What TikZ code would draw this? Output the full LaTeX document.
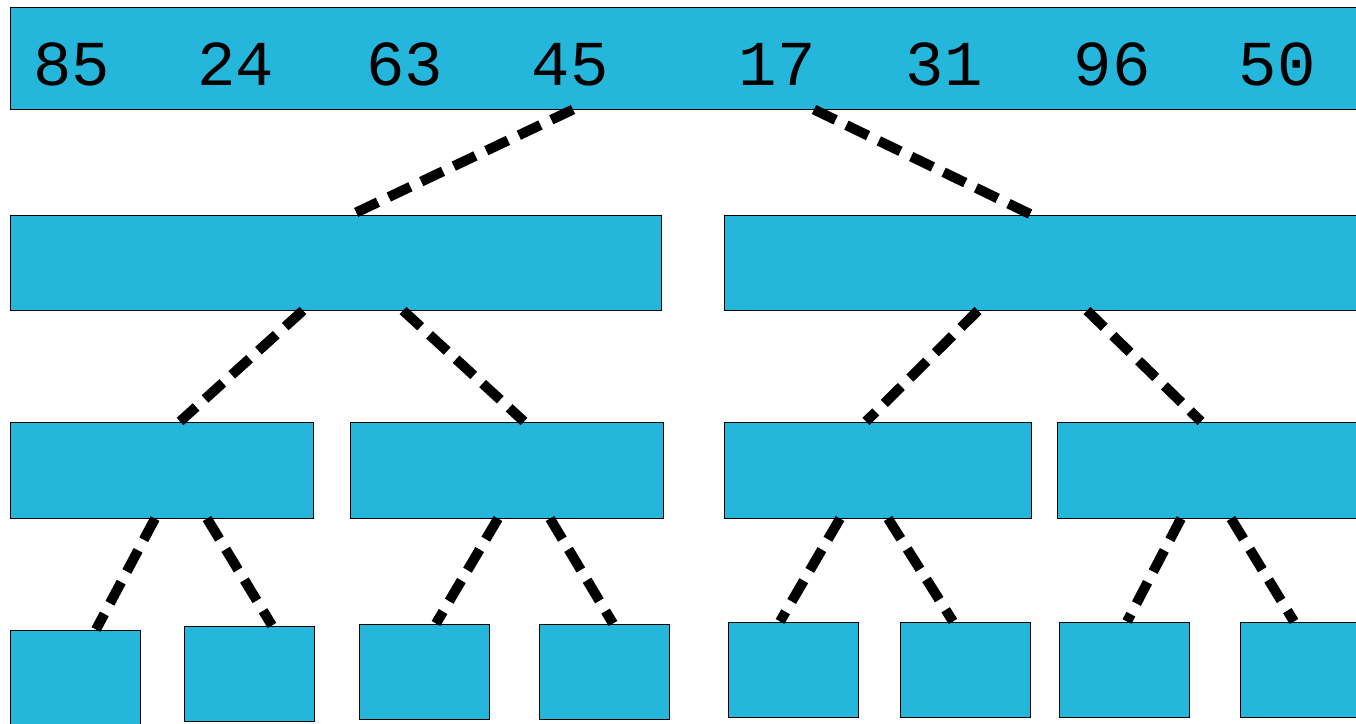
\documentclass[tikz,border=0pt]{standalone}
\usepackage{fontspec}
\newfontfamily\numfont{Liberation Mono}
\definecolor{boxblue}{RGB}{37,183,219}
\begin{document}
\begin{tikzpicture}[x=1pt,y=-1pt,
  box/.style={draw=black,line width=1pt,fill=boxblue,rectangle,inner sep=0pt},
  conn/.style={line width=10pt,dash pattern=on 24pt off 12pt},
  num/.style={inner sep=0pt,font=\numfont\fontsize{64}{64}\selectfont}]
\useasboundingbox (0,0) rectangle (1356,723);
\clip (0,0) rectangle (1356,723);
% boxes
\node[box,minimum width=1356pt,minimum height=102pt] (T) at (688,58) {};
\node[box,minimum width=651pt,minimum height=95pt] (L) at (335.5,262.5) {};
\node[box,minimum width=646pt,minimum height=95pt] (R) at (1047,262.5) {};
\node[box,minimum width=303pt,minimum height=96pt] (A) at (161.5,470) {};
\node[box,minimum width=313pt,minimum height=96pt] (B) at (506.5,470) {};
\node[box,minimum width=307pt,minimum height=96pt] (C) at (877.5,470) {};
\node[box,minimum width=313pt,minimum height=96pt] (D) at (1213.5,470) {};
\node[box,minimum width=130pt,minimum height=95pt] (l1) at (75,677.5) {};
\node[box,minimum width=130pt,minimum height=95pt] (l2) at (249,673.5) {};
\node[box,minimum width=130pt,minimum height=95pt] (l3) at (424,671.5) {};
\node[box,minimum width=130pt,minimum height=95pt] (l4) at (604,671.5) {};
\node[box,minimum width=130pt,minimum height=95pt] (l5) at (793,669.5) {};
\node[box,minimum width=130pt,minimum height=95pt] (l6) at (965,669.5) {};
\node[box,minimum width=130pt,minimum height=95pt] (l7) at (1124,669.5) {};
\node[box,minimum width=130pt,minimum height=95pt] (l8) at (1305,669.5) {};
% numbers
\node[num] (n1) at (71.5,64.5) {85};
\node[num] (n2) at (236,64.5) {24};
\node[num] (n3) at (405,64.5) {63};
\node[num] (n4) at (570,64.5) {45};
\node[num] (n5) at (777,64.5) {17};
\node[num] (n6) at (944,64.5) {31};
\node[num] (n7) at (1112,64.5) {96};
\node[num] (n8) at (1277,64.5) {50};
% connectors
\draw[conn] ([xshift=-115pt]T.south) -- ([xshift=16.5pt]L.north);
\draw[conn] ([xshift=126pt]T.south) -- ([xshift=-16pt]R.north);
\draw[conn] ([xshift=-32.5pt]L.south) -- ([xshift=18.5pt]A.north);
\draw[conn] ([xshift=67.5pt]L.south) -- ([xshift=17.5pt]B.north);
\draw[conn] ([xshift=-69pt]R.south) -- ([xshift=-11.5pt]C.north);
\draw[conn] ([xshift=40pt]R.south) -- ([xshift=-12.5pt]D.north);
\draw[conn] ([xshift=-6.5pt]A.south) -- ([xshift=21pt]l1.north);
\draw[conn] ([xshift=45.5pt]A.south) -- ([xshift=23pt]l2.north);
\draw[conn] ([xshift=-8.5pt]B.south) -- ([xshift=12pt]l3.north);
\draw[conn] ([xshift=43.5pt]B.south) -- ([xshift=9pt]l4.north);
\draw[conn] ([xshift=-37.5pt]C.south) -- ([xshift=-13pt]l5.north);
\draw[conn] ([xshift=10.5pt]C.south) -- ([xshift=-12pt]l6.north);
\draw[conn] ([xshift=-32.5pt]D.south) -- ([xshift=3pt]l7.north);
\draw[conn] ([xshift=17.5pt]D.south) -- ([xshift=-11pt]l8.north);
\end{tikzpicture}
\end{document}
